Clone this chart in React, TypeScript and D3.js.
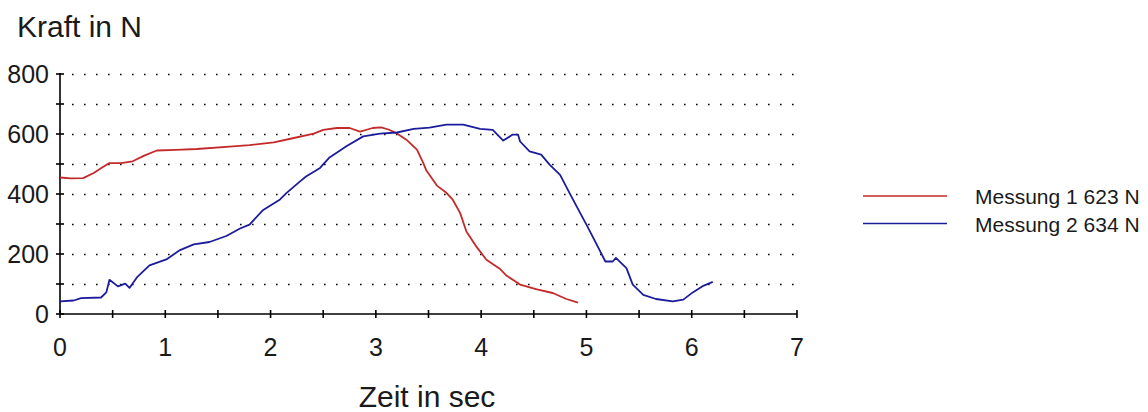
import * as d3 from "d3";
import { useEffect, useRef } from "react";

// Messung 1 (red): [time s, force N]
const messung1: [number, number][] = [
  [0, 455], [0.1, 452], [0.22, 453], [0.32, 470], [0.4, 488], [0.47, 503],
  [0.58, 503], [0.69, 509], [0.8, 528], [0.92, 545], [1.1, 547], [1.3, 550],
  [1.61, 558], [1.8, 563], [2.03, 572], [2.2, 585], [2.41, 601], [2.5, 614],
  [2.63, 620], [2.75, 620], [2.85, 608], [2.97, 620], [3.05, 622], [3.12, 615],
  [3.2, 602], [3.29, 581], [3.39, 548], [3.45, 504], [3.48, 478], [3.58, 428],
  [3.67, 404], [3.73, 381], [3.8, 337], [3.86, 275], [3.96, 222], [4.05, 181],
  [4.18, 150], [4.24, 128], [4.37, 98], [4.53, 82], [4.68, 70], [4.81, 50],
  [4.92, 38],
];

// Messung 2 (blue)
const messung2: [number, number][] = [
  [0, 42], [0.13, 45], [0.2, 53], [0.39, 55], [0.44, 72], [0.47, 114],
  [0.55, 92], [0.62, 101], [0.66, 87], [0.73, 122], [0.85, 162], [1.01, 182],
  [1.14, 213], [1.27, 232], [1.42, 240], [1.58, 260], [1.71, 285], [1.8, 298],
  [1.93, 347], [2.09, 382], [2.15, 403], [2.28, 442], [2.34, 459], [2.47, 487],
  [2.56, 522], [2.72, 559], [2.88, 592], [3.04, 601], [3.2, 605], [3.36, 617],
  [3.51, 621], [3.67, 631], [3.83, 631], [3.99, 617], [4.11, 614], [4.21, 578],
  [4.3, 598], [4.35, 598], [4.37, 575], [4.46, 542], [4.57, 531], [4.65, 498],
  [4.75, 464], [4.84, 403], [4.94, 337], [5.0, 298], [5.09, 237], [5.18, 175],
  [5.25, 175], [5.28, 187], [5.38, 153], [5.44, 98], [5.54, 64], [5.66, 50],
  [5.82, 42], [5.92, 48], [6.01, 72], [6.11, 94], [6.2, 107],
];

const xTicks = [0, 1, 2, 3, 4, 5, 6, 7];
const yTicks = [0, 200, 400, 600, 800];
const legendItems = ["Messung 1 623 N", "Messung 2 634 N"];
const colors = ["#c42a2a", "#1c1c9c"];

export default function App() {
  const ref = useRef<SVGSVGElement>(null);

  useEffect(() => {
    const svg = d3.select(ref.current);
    svg.selectAll("*").remove();

    const x = d3.scaleLinear().domain([0, 7]).range([60, 797]);
    const y = d3.scaleLinear().domain([0, 800]).range([314, 74]);
    const font = "'Liberation Sans', Arial, sans-serif";
    const textColor = "#1a1a1a";

    // dotted grid lines
    svg
      .append("g")
      .selectAll("line")
      .data(d3.range(100, 801, 100))
      .join("line")
      .attr("x1", 72)
      .attr("x2", 794)
      .attr("y1", (d) => y(d) + 0.5)
      .attr("y2", (d) => y(d) + 0.5)
      .attr("stroke", "#000")
      .attr("stroke-width", 1.6)
      .attr("stroke-dasharray", "1.6 10.4");

    // axes lines
    svg
      .append("line")
      .attr("x1", x(0))
      .attr("x2", x(0))
      .attr("y1", y(800) - 1)
      .attr("y2", y(0))
      .attr("stroke", "#000")
      .attr("stroke-width", 1.6);
    svg
      .append("line")
      .attr("x1", x(0))
      .attr("x2", x(7))
      .attr("y1", y(0))
      .attr("y2", y(0))
      .attr("stroke", "#000")
      .attr("stroke-width", 1.6);

    // y ticks (every 100) crossing the axis
    svg
      .append("g")
      .selectAll("line")
      .data(d3.range(0, 801, 100))
      .join("line")
      .attr("x1", x(0) - 4)
      .attr("x2", x(0) + 4)
      .attr("y1", (d) => y(d))
      .attr("y2", (d) => y(d))
      .attr("stroke", "#000")
      .attr("stroke-width", 1.6);

    // x ticks (every 0.5)
    svg
      .append("g")
      .selectAll("line")
      .data(d3.range(0, 7.01, 0.5))
      .join("line")
      .attr("x1", (d) => x(d))
      .attr("x2", (d) => x(d))
      .attr("y1", y(0) - 4)
      .attr("y2", y(0) + 4)
      .attr("stroke", "#000")
      .attr("stroke-width", 1.6);

    // y tick labels
    svg
      .append("g")
      .selectAll("text")
      .data(yTicks)
      .join("text")
      .attr("x", 49)
      .attr("y", (d) => y(d) + 9)
      .attr("text-anchor", "end")
      .attr("font-family", font)
      .attr("font-size", 25)
      .attr("fill", textColor)
      .text((d) => d);

    // x tick labels
    svg
      .append("g")
      .selectAll("text")
      .data(xTicks)
      .join("text")
      .attr("x", (d) => x(d))
      .attr("y", 356)
      .attr("text-anchor", "middle")
      .attr("font-family", font)
      .attr("font-size", 25)
      .attr("fill", textColor)
      .text((d) => d);

    // axis titles
    svg
      .append("text")
      .attr("x", 17)
      .attr("y", 37)
      .attr("font-family", font)
      .attr("font-size", 30)
      .attr("fill", textColor)
      .text("Kraft in N");
    svg
      .append("text")
      .attr("x", 427)
      .attr("y", 407)
      .attr("text-anchor", "middle")
      .attr("font-family", font)
      .attr("font-size", 30)
      .attr("fill", textColor)
      .text("Zeit in sec");

    // data lines
    const line = d3
      .line<[number, number]>()
      .x((d) => x(d[0]))
      .y((d) => y(d[1]));

    [messung1, messung2].forEach((s, i) => {
      svg
        .append("path")
        .attr("d", line(s))
        .attr("fill", "none")
        .attr("stroke", colors[i])
        .attr("stroke-width", 1.8)
        .attr("stroke-linejoin", "round");
    });

    // legend
    legendItems.forEach((label, i) => {
      const ly = 196 + i * 27.5;
      svg
        .append("line")
        .attr("x1", 863)
        .attr("x2", 947)
        .attr("y1", ly)
        .attr("y2", ly)
        .attr("stroke", colors[i])
        .attr("stroke-width", 1.6);
      svg
        .append("text")
        .attr("x", 975)
        .attr("y", ly + 8)
        .attr("font-family", font)
        .attr("font-size", 21)
        .attr("fill", textColor)
        .text(label);
    });
  }, []);

  return (
    <svg
      ref={ref}
      width={1148}
      height={412}
      style={{ position: "absolute", left: 0, top: 0, background: "#fff" }}
    />
  );
}
